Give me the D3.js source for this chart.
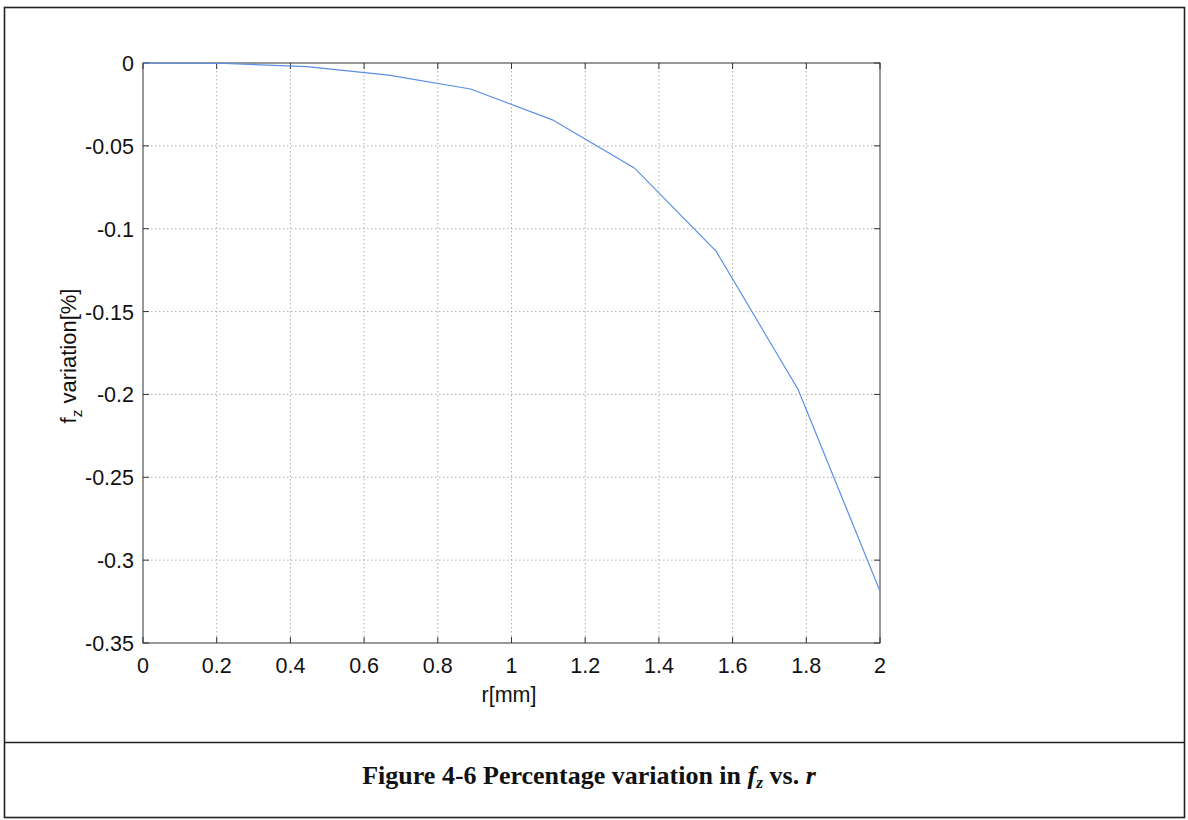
<!DOCTYPE html>
<html>
<head>
<meta charset="utf-8">
<script src="https://cdn.jsdelivr.net/npm/d3@7"></script>
<style>
  html, body { margin: 0; padding: 0; background: #fff; }
  svg { display: block; }
</style>
</head>
<body>
<svg id="chart" width="1188" height="820"></svg>
<script>
// Radial position r [mm] and the percentage variation of f_z at each position
const rValues = [0, 0.2222, 0.4444, 0.6667, 0.8889, 1.1111, 1.3333, 1.5556, 1.7778, 2.0];
const fzVariation = [0, -0.0003, -0.0022, -0.0073, -0.0157, -0.0343, -0.0633, -0.1137, -0.1970, -0.3187];

const xTicks = [0, 0.2, 0.4, 0.6, 0.8, 1, 1.2, 1.4, 1.6, 1.8, 2];
const xTickLabels = ["0", "0.2", "0.4", "0.6", "0.8", "1", "1.2", "1.4", "1.6", "1.8", "2"];
const yTicks = [0, -0.05, -0.1, -0.15, -0.2, -0.25, -0.3, -0.35];
const yTickLabels = ["0", "-0.05", "-0.1", "-0.15", "-0.2", "-0.25", "-0.3", "-0.35"];

const svg = d3.select("#chart");

// Outer figure frame and caption divider
const frame = svg.append("g").attr("fill", "none").attr("stroke", "#222").attr("stroke-width", 1.6);
frame.append("rect").attr("x", 4.5).attr("y", 7.5).attr("width", 1180).attr("height", 810);
frame.append("line").attr("x1", 4.5).attr("x2", 1184.5).attr("y1", 742.5).attr("y2", 742.5);

// Plot area
const plot = { left: 143, right: 880, top: 63, bottom: 643 };
const x = d3.scaleLinear().domain([0, 2]).range([plot.left, plot.right]);
const y = d3.scaleLinear().domain([-0.35, 0]).range([plot.bottom, plot.top]);

const font = "Liberation Sans, Arial, sans-serif";
const fs = 21.5;

// Dotted grid
const grid = svg.append("g").attr("stroke", "#9a9a9a").attr("stroke-width", 0.8)
  .attr("stroke-dasharray", "1.5,2.5");
grid.selectAll("line.v").data(xTicks.slice(1, -1)).enter().append("line")
  .attr("x1", d => x(d)).attr("x2", d => x(d))
  .attr("y1", plot.top).attr("y2", plot.bottom);
grid.selectAll("line.h").data(yTicks.slice(1, -1)).enter().append("line")
  .attr("x1", plot.left).attr("x2", plot.right)
  .attr("y1", d => y(d)).attr("y2", d => y(d));

// Axes box
svg.append("rect")
  .attr("x", plot.left).attr("y", plot.top)
  .attr("width", plot.right - plot.left).attr("height", plot.bottom - plot.top)
  .attr("fill", "none").attr("stroke", "#333").attr("stroke-width", 1);

// Inward tick marks on all four sides
const tickLen = 6;
const ticks = svg.append("g").attr("stroke", "#333").attr("stroke-width", 1);
xTicks.forEach(t => {
  ticks.append("line").attr("x1", x(t)).attr("x2", x(t)).attr("y1", plot.bottom).attr("y2", plot.bottom - tickLen);
  ticks.append("line").attr("x1", x(t)).attr("x2", x(t)).attr("y1", plot.top).attr("y2", plot.top + tickLen);
});
yTicks.forEach(t => {
  ticks.append("line").attr("x1", plot.left).attr("x2", plot.left + tickLen).attr("y1", y(t)).attr("y2", y(t));
  ticks.append("line").attr("x1", plot.right).attr("x2", plot.right - tickLen).attr("y1", y(t)).attr("y2", y(t));
});

// Tick labels
svg.append("g").selectAll("text").data(xTicks).enter().append("text")
  .attr("x", d => x(d)).attr("y", 673)
  .attr("text-anchor", "middle")
  .attr("font-family", font).attr("font-size", fs).attr("fill", "#111")
  .text((d, i) => xTickLabels[i]);
svg.append("g").selectAll("text").data(yTicks).enter().append("text")
  .attr("x", 134).attr("y", d => y(d) + 8)
  .attr("text-anchor", "end")
  .attr("font-family", font).attr("font-size", fs).attr("fill", "#111")
  .text((d, i) => yTickLabels[i]);

// Axis titles
svg.append("text")
  .attr("x", 509).attr("y", 702)
  .attr("text-anchor", "middle")
  .attr("font-family", font).attr("font-size", fs).attr("fill", "#111")
  .text("r[mm]");

const yTitle = svg.append("text")
  .attr("transform", "translate(76,356) rotate(-90)")
  .attr("text-anchor", "middle")
  .attr("font-family", font).attr("font-size", 22).attr("fill", "#111");
yTitle.append("tspan").text("f");
yTitle.append("tspan").attr("font-size", 15.5).attr("dy", 6).text("z");
yTitle.append("tspan").attr("dy", -6).text(" variation[%]");

// Data line
const line = d3.line().x((d, i) => x(rValues[i])).y(d => y(d));
svg.append("path")
  .datum(fzVariation)
  .attr("d", line)
  .attr("fill", "none")
  .attr("stroke", "#5a8fe6")
  .attr("stroke-width", 1.2);

// Caption
const cap = svg.append("text")
  .attr("x", 589).attr("y", 784)
  .attr("text-anchor", "middle")
  .attr("font-family", "Liberation Serif, Times New Roman, serif")
  .attr("font-weight", "bold").attr("font-size", 26).attr("fill", "#111");
cap.append("tspan").text("Figure 4-6 Percentage variation in ");
cap.append("tspan").attr("font-style", "italic").text("f");
cap.append("tspan").attr("font-style", "italic").attr("font-size", 17.5).attr("dy", 4).text("z");
cap.append("tspan").attr("dy", -4).text(" vs. ");
cap.append("tspan").attr("font-style", "italic").text("r");
</script>
</body>
</html>
